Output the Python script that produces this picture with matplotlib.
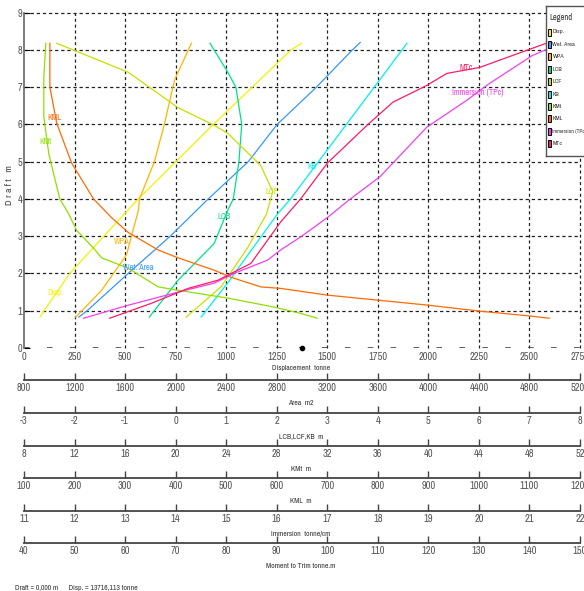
import matplotlib
matplotlib.use("Agg")
import matplotlib.pyplot as plt
import matplotlib.font_manager as fm
from matplotlib.patches import Rectangle

# pick a condensed face if one exists, otherwise Liberation Sans
FONT, STRETCH = 'Liberation Sans', 'normal'
for f in fm.fontManager.ttflist:
    if 'Narrow' in f.name:
        FONT, STRETCH = f.name, 'normal'
        break
else:
    for f in fm.fontManager.ttflist:
        if f.name in ('DejaVu Sans', 'Liberation Sans', 'Noto Sans', 'Open Sans') and \
                str(f.stretch) in ('condensed', 'semi-condensed', '75', '87.5'):
            FONT, STRETCH = f.name, 'condensed'
            break
plt.rcParams['font.family'] = [FONT, 'DejaVu Sans']
plt.rcParams['font.stretch'] = STRETCH
plt.rcParams['lines.scale_dashes'] = False

# ---------------- data (displacement tonne, draft m) ----------------
disp_x = [79, 99, 226, 395, 565, 936, 1269, 1320, 1373]
disp_y = [0.83, 1.0, 2.0, 3.0, 4.0, 6.0, 7.73, 8.0, 8.18]

wet_x = [271, 312, 515, 723, 911, 1109, 1252, 1446, 1624, 1663]
wet_y = [0.83, 1.0, 2.0, 3.0, 4.0, 5.0, 6.0, 7.0, 8.0, 8.2]

wpa_x = [256, 384, 507, 566, 571, 645, 694, 745, 828]
wpa_y = [0.83, 1.55, 2.5, 3.7, 4.0, 5.0, 6.0, 7.2, 8.18]

lcb_x = [620, 762, 940, 1008, 1035, 1063, 1077, 1048, 1008, 920]
lcb_y = [0.83, 1.82, 2.8, 3.7, 4.0, 5.0, 6.0, 7.0, 7.4, 8.18]

lcf_x = [802, 974, 1107, 1200, 1230, 1171, 1008, 940, 762, 516, 162]
lcf_y = [0.83, 1.64, 2.7, 3.6, 4.2, 4.9, 5.76, 5.98, 6.45, 7.4, 8.18]

kb_x = [876, 1008, 1254, 1318, 1746, 1894]
kb_y = [0.83, 1.75, 3.6, 4.0, 7.1, 8.18]

kmt_x = [1450, 1368, 1235, 1008, 762, 664, 516, 384, 344, 260, 221, 177, 123, 98, 98, 108]
kmt_y = [0.80, 0.93, 1.1, 1.34, 1.55, 1.64, 2.14, 2.42, 2.68, 3.16, 3.6, 4.0, 5.2, 6.2, 7.27, 8.18]

kml_x = [2598, 2500, 2253, 1998, 1500, 1269, 1171, 1023, 940, 762, 664, 516, 433, 344, 236, 162, 128, 128]
kml_y = [0.80, 0.86, 0.99, 1.15, 1.42, 1.6, 1.64, 1.9, 2.09, 2.42, 2.63, 3.1, 3.5, 4.0, 4.96, 6.03, 7.0, 8.18]

imm_x = [295, 516, 762, 940, 1038, 1205, 1269, 1368, 1500, 1614, 1761, 1993, 2190, 2302, 2514, 2578]
imm_y = [0.80, 1.15, 1.5, 1.74, 2.0, 2.36, 2.63, 2.98, 3.5, 4.0, 4.6, 5.93, 6.65, 7.1, 7.85, 8.0]

mtc_x = [424, 630, 812, 959, 1122, 1269, 1368, 1500, 1697, 1825, 1993, 2091, 2253, 2583]
mtc_y = [0.80, 1.2, 1.6, 1.82, 2.27, 3.38, 4.0, 4.96, 5.98, 6.6, 7.05, 7.37, 7.53, 8.18]

series_names = ["Disp.", "Wet. Area", "WPA", "LCB", "LCF", "KB", "KMt", "KML",
                "Immersion (TPc)", "MTc"]
series_colors = ["#f2f200", "#3399ff", "#ffb400", "#00e08c", "#c8e000", "#00f0f0",
                 "#8ee000", "#ff6a00", "#f040f0", "#ff1a66"]
series_data = [(disp_x, disp_y), (wet_x, wet_y), (wpa_x, wpa_y), (lcb_x, lcb_y),
               (lcf_x, lcf_y), (kb_x, kb_y), (kmt_x, kmt_y), (kml_x, kml_y),
               (imm_x, imm_y), (mtc_x, mtc_y)]
label_pos = [(153, 1.48), (564, 2.17), (485, 2.85), (990, 3.52), (1228, 4.19),
             (1426, 4.86), (104, 5.53), (149, 6.2), (2242, 6.87), (2188, 7.54)]
label_text = ["Disp.", "Wet. Area", "WPA", "LCB", "LCF", "KB", "KMt", "KML",
              "Immersion (TPc)", "MTc"]

x_ticks = [0, 250, 500, 750, 1000, 1250, 1500, 1750, 2000, 2250, 2500, 2750]
y_ticks = [0, 1, 2, 3, 4, 5, 6, 7, 8, 9]
marker_x = [1376]
marker_y = [0]

scale_titles = ["Area  m2", "LCB,LCF,KB  m", "KMt  m", "KML  m",
                "Immersion  tonne/cm", "Moment to Trim tonne.m"]
scale_ticks = [
    [800, 1200, 1600, 2000, 2400, 2800, 3200, 3600, 4000, 4400, 4800, 5200],
    [-3, -2, -1, 0, 1, 2, 3, 4, 5, 6, 7, 8],
    [8, 12, 16, 20, 24, 28, 32, 36, 40, 44, 48, 52],
    [100, 200, 300, 400, 500, 600, 700, 800, 900, 1000, 1100, 1200],
    [11, 12, 13, 14, 15, 16, 17, 18, 19, 20, 21, 22],
    [40, 50, 60, 70, 80, 90, 100, 110, 120, 130, 140, 150],
]
footer = "Draft = 0,000 m      Disp. = 13716,113 tonne"

# ---------------- figure ----------------
W, H = 584, 591
fig = plt.figure(figsize=(W / 100, H / 100), dpi=100)
fig.patch.set_facecolor("white")

L, R = 24, 580
top_px, bot_px = 12.7, 348
ax = fig.add_axes([L / W, 1 - bot_px / H, (R - L) / W, (bot_px - top_px) / H])
ax.set_xlim(0, 2750)
ax.set_ylim(0, 9)

for s in ["top", "right", "bottom"]:
    ax.spines[s].set_visible(False)
ax.spines["left"].set_color("#666666")
ax.spines["left"].set_linewidth(1.2)

# grid
for xv in x_ticks[1:]:
    ax.axvline(xv, color="#222222", lw=0.9, dashes=(2.2, 2.0), zorder=1, clip_on=False)
for yv in y_ticks[1:]:
    ax.axhline(yv, color="#222222", lw=0.9, dashes=(2.4, 2.0), zorder=1, clip_on=False)
ax.axhline(0, color="#333333", lw=1.1, dashes=(4.0, 12.5), dash_capstyle="butt", zorder=1)

for (xs, ys), c in zip(series_data, series_colors):
    ax.plot(xs, ys, color=c, lw=0.9, zorder=3)

for (lx, ly), t, c in zip(label_pos, label_text, series_colors):
    ax.text(lx, ly, t, color=c, fontsize=6, ha="center", va="center", zorder=4)

ax.plot(marker_x, marker_y, "o", color="black", ms=3, zorder=5, clip_on=False)

ax.set_xticks(x_ticks)
ax.set_yticks(y_ticks)
ax.tick_params(axis="x", length=0, pad=3, labelsize=7.5, labelcolor="#555555")
ax.tick_params(axis="y", direction="in", length=4, width=0.8, color="black",
               pad=1, labelsize=7.5, labelcolor="#555555")
ax.set_xticklabels([str(v) for v in x_ticks])
ax.set_yticklabels([str(v) for v in y_ticks])

fig.text(10 / W, 1 - 185 / H, "D r a f t   m", rotation=90, fontsize=7,
         color="#444444", ha="center", va="center")
fig.text(301 / W, 1 - 368 / H, "Displacement  tonne", fontsize=5.5,
         color="#333333", ha="center", va="center")

# ---------------- lower scales ----------------
line_px = [380, 413, 446, 478, 511, 543]
for ypx, ticks, title in zip(line_px, scale_ticks, scale_titles):
    sax = fig.add_axes([L / W, 1 - ypx / H, (R - L) / W, 0.0001])
    sax.set_xlim(ticks[0], ticks[-1])
    sax.set_ylim(0, 1)
    for s in ["top", "right", "left"]:
        sax.spines[s].set_visible(False)
    sax.spines["bottom"].set_color("#444444")
    sax.spines["bottom"].set_linewidth(1.3)
    sax.set_yticks([])
    sax.set_xticks(ticks)
    sax.set_xticklabels([str(v) for v in ticks])
    sax.tick_params(axis="x", direction="in", length=5, width=1.0, color="#444444",
                    pad=2.5, labelsize=7.5, labelcolor="#555555")
    sax.patch.set_visible(False)
    fig.text(301 / W, 1 - (ypx + 23) / H, title, fontsize=5.5, color="#333333",
             ha="center", va="center")

fig.text(15 / W, 1 - 588 / H, footer, fontsize=5.5, color="#333333",
         ha="left", va="center")

# ---------------- legend ----------------
lax = fig.add_axes([546 / W, 1 - 156 / H, 60 / W, 150 / H])
lax.set_xlim(0, 60)
lax.set_ylim(150, 0)
lax.set_xticks([])
lax.set_yticks([])
for s in lax.spines.values():
    s.set_color("#555555")
    s.set_linewidth(1.0)
lax.text(3, 12, "Legend", fontsize=6, color="#333333", va="center", ha="left")
for i, (n, c) in enumerate(zip(series_names, series_colors)):
    yy = 26 + i * 12.4
    lax.add_patch(Rectangle((1.5, yy - 3.5), 3, 7, facecolor=c, edgecolor="black", lw=0.7))
    lax.text(6.5, yy, n, fontsize=4.0 if len(n) > 10 else 4.5, color="#333333",
             va="center", ha="left")

fig.savefig("out.png", dpi=100)
